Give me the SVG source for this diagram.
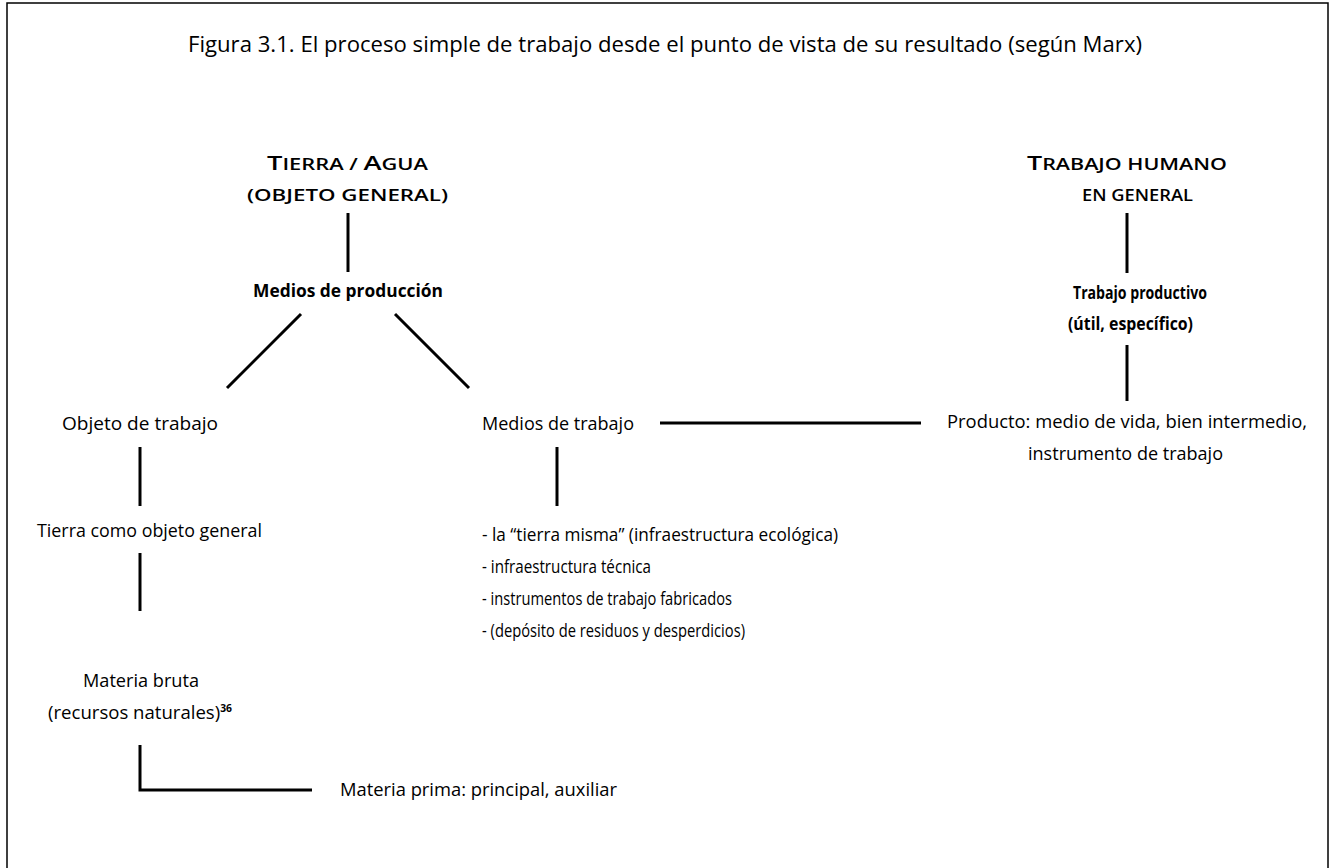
<svg xmlns="http://www.w3.org/2000/svg" width="1330" height="868" viewBox="0 0 1330 868">
<style>
.t{font-family:"Open Sans","Liberation Sans",sans-serif;font-size:18px;font-weight:500;fill:#000;}
.b{font-weight:700;}
.sc{font-family:"Open Sans","Liberation Sans",sans-serif;font-weight:600;fill:#000;}
.big{font-size:20px;}
.sm{font-size:16px;}
.ttl{font-family:"Open Sans","Liberation Sans",sans-serif;font-size:21px;font-weight:500;fill:#000;}
.ln{stroke:#000;stroke-width:3;fill:none;}
</style>
<rect x="0" y="0" width="1330" height="868" fill="#fff"/>
<rect x="7" y="3" width="1321" height="900" fill="none" stroke="#000" stroke-width="1.5"/>
<text class="ttl" x="188" y="52" textLength="954" lengthAdjust="spacingAndGlyphs">Figura 3.1. El proceso simple de trabajo desde el punto de vista de su resultado (según Marx)</text>

<g id="connectors">
<line class="ln" x1="348" y1="213" x2="348" y2="272"/>
<line class="ln" x1="301" y1="314" x2="227" y2="388"/>
<line class="ln" x1="395" y1="314" x2="469" y2="388"/>
<line class="ln" x1="140" y1="447" x2="140" y2="506"/>
<line class="ln" x1="557" y1="447" x2="557" y2="506"/>
<line class="ln" x1="660" y1="423" x2="921" y2="423"/>
<line class="ln" x1="1127" y1="213" x2="1127" y2="273"/>
<line class="ln" x1="1127" y1="345" x2="1127" y2="401"/>
<line class="ln" x1="140" y1="553" x2="140" y2="611"/>
<polyline class="ln" points="140,745 140,790 312,790"/>
</g>

<g id="tierra-agua">
<text class="sc" x="267" y="170" textLength="161" lengthAdjust="spacingAndGlyphs"><tspan class="big">T</tspan><tspan class="sm">IERRA / </tspan><tspan class="big">A</tspan><tspan class="sm">GUA</tspan></text>
<text class="sc sm" x="247" y="201" textLength="201" lengthAdjust="spacingAndGlyphs">(OBJETO GENERAL)</text>
</g>
<g id="medios-produccion">
<text class="t b" x="253" y="297" textLength="190" lengthAdjust="spacingAndGlyphs">Medios de producción</text>
</g>
<g id="objeto-trabajo">
<text class="t" x="62" y="430" textLength="156" lengthAdjust="spacingAndGlyphs">Objeto de trabajo</text>
</g>
<g id="medios-trabajo">
<text class="t" x="482" y="430" textLength="152" lengthAdjust="spacingAndGlyphs">Medios de trabajo</text>
</g>
<g id="trabajo-humano">
<text class="sc" x="1027" y="170" textLength="200" lengthAdjust="spacingAndGlyphs"><tspan class="big">T</tspan><tspan class="sm">RABAJO HUMANO</tspan></text>
<text class="sc sm" x="1082" y="201" textLength="111" lengthAdjust="spacingAndGlyphs">EN GENERAL</text>
</g>
<g id="trabajo-productivo">
<text class="t b" x="1073" y="299" textLength="134" lengthAdjust="spacingAndGlyphs">Trabajo productivo</text>
<text class="t b" x="1068" y="330" textLength="125" lengthAdjust="spacingAndGlyphs">(útil, específico)</text>
</g>
<g id="producto">
<text class="t" x="947" y="428" textLength="360" lengthAdjust="spacingAndGlyphs">Producto: medio de vida, bien intermedio,</text>
<text class="t" x="1028" y="460" textLength="195" lengthAdjust="spacingAndGlyphs">instrumento de trabajo</text>
</g>
<g id="tierra-objeto">
<text class="t" x="37" y="537" textLength="225" lengthAdjust="spacingAndGlyphs">Tierra como objeto general</text>
</g>
<g id="lista-medios">
<text class="t" x="482" y="541" textLength="356" lengthAdjust="spacingAndGlyphs">- la “tierra misma” (infraestructura ecológica)</text>
<text class="t" x="482" y="573" textLength="169" lengthAdjust="spacingAndGlyphs">- infraestructura técnica</text>
<text class="t" x="482" y="605" textLength="250" lengthAdjust="spacingAndGlyphs">- instrumentos de trabajo fabricados</text>
<text class="t" x="482" y="637" textLength="263" lengthAdjust="spacingAndGlyphs">- (depósito de residuos y desperdicios)</text>
</g>
<g id="materia-bruta">
<text class="t" x="83" y="687" textLength="116" lengthAdjust="spacingAndGlyphs">Materia bruta</text>
<text class="t" x="48" y="719" textLength="184" lengthAdjust="spacingAndGlyphs">(recursos naturales)<tspan font-size="10" font-weight="700" dy="-7">36</tspan></text>
</g>
<g id="materia-prima">
<text class="t" x="340" y="796" textLength="277" lengthAdjust="spacingAndGlyphs">Materia prima: principal, auxiliar</text>
</g>
</svg>
